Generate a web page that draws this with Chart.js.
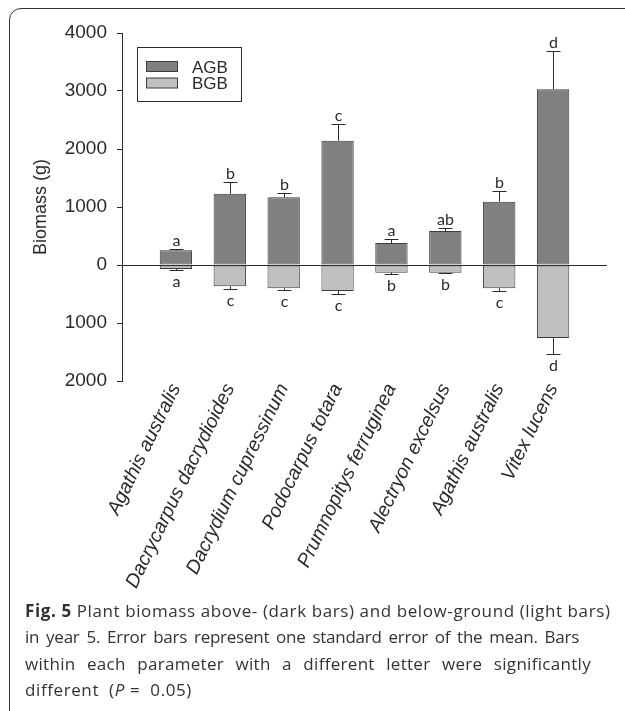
<!DOCTYPE html>
<html>
<head>
<meta charset="utf-8">
<script src="https://cdn.jsdelivr.net/npm/chart.js@4.4.0/dist/chart.umd.min.js"></script>
<style>
  html, body { margin: 0; padding: 0; background: #fff; }
  body { width: 625px; height: 711px; overflow: hidden; position: relative; }
  #frame { position: absolute; left: 9px; top: 8px; width: 660px; height: 740px; border: 1.5px solid #333; border-radius: 12px; box-sizing: border-box; }
  #c { position: absolute; left: 0; top: 0; }
  #cap { position: absolute; left: 25px; top: 598px; font-family: 'Open Sans', sans-serif; font-size: 17px; line-height: 26.3px; color: #333; }
  #cap div { white-space: nowrap; }
  #cap .l1 { letter-spacing: 0.6px; }
  #cap .l2 { width: 554px; text-align: justify; text-align-last: justify; letter-spacing: -0.25px; }
  #cap .l3 { width: 566px; text-align: justify; text-align-last: justify; letter-spacing: 0.3px; }
  #cap .l4 { letter-spacing: 0.6px; }
</style>
</head>
<body>
<div id="frame"></div>
<canvas id="c" width="625" height="600"></canvas>
<div id="cap">
  <div class="l1"><b>Fig. 5</b> Plant biomass above- (dark bars) and below-ground (light bars)</div>
  <div class="l2">in year 5. Error bars represent one standard error of the mean. Bars</div>
  <div class="l3">within each parameter with a different letter were significantly</div>
  <div class="l4">different&nbsp; (<i>P</i> = &nbsp;0.05)</div>
</div>
<script>
// species along the x axis
const species = ['Agathis australis', 'Dacrycarpus dacrydioides', 'Dacrydium cupressinum', 'Podocarpus totara',
                 'Prumnopitys ferruginea', 'Alectryon excelsus', 'Agathis australis', 'Vitex lucens'];
// above-ground biomass (g) and SE
const agb   = [253, 1229, 1167, 2144, 379, 586, 1092, 3029];
const agbSE = [28, 196, 80, 287, 64, 52, 184, 655];
// below-ground biomass (g, plotted downward) and SE
const bgb   = [-69, -368, -402, -448, -132, -132, -402, -1259];
const bgbSE = [12, 52, 35, 46, 17, 6, 46, 281];
const agbLetters = ['a', 'b', 'b', 'c', 'a', 'ab', 'b', 'd'];
const bgbLetters = ['a', 'c', 'c', 'c', 'b', 'b', 'c', 'd'];

const ink = '#2a2a2a';
const darkFill = '#808080', lightFill = '#c0c0c0', edge = '#3c3c3c';

const errorBars = {
  id: 'errorBars',
  afterDatasetsDraw(chart) {
    const { ctx, scales: { x, y } } = chart;
    ctx.save();
    ctx.strokeStyle = ink; ctx.lineWidth = 1;
    ctx.fillStyle = ink; ctx.textAlign = 'center';
    ctx.font = '16px Lato';
    const draw = (vals, se, letters, dir) => {
      vals.forEach((v, i) => {
        const px = Math.round(x.getPixelForValue(i + 1)) + 0.5;
        const y0 = y.getPixelForValue(v);
        const y1 = Math.round(y.getPixelForValue(v + dir * se[i])) + 0.5;
        ctx.beginPath();
        ctx.moveTo(px, y0); ctx.lineTo(px, y1);
        ctx.moveTo(px - 7, y1); ctx.lineTo(px + 7, y1);
        ctx.stroke();
        if (dir > 0) { ctx.textBaseline = 'alphabetic'; ctx.fillText(letters[i], px, y1 - 4); }
        else { ctx.textBaseline = 'top'; ctx.fillText(letters[i], px, y1 + 3); }
      });
    };
    draw(agb, agbSE, agbLetters, 1);
    draw(bgb, bgbSE, bgbLetters, -1);
    ctx.restore();
  }
};

const boxLegend = {
  id: 'boxLegend',
  afterDraw(chart) {
    const ctx = chart.ctx;
    ctx.save();
    ctx.strokeStyle = ink; ctx.lineWidth = 1;
    ctx.strokeRect(137.5, 47.5, 104, 54);
    ctx.font = '17px "Liberation Sans"';
    ctx.textBaseline = 'alphabetic'; ctx.textAlign = 'left';
    chart.data.datasets.forEach((ds, i) => {
      const top = 61.5 + i * 16.5;
      ctx.fillStyle = ds.backgroundColor;
      ctx.fillRect(146.5, top, 31, 10);
      ctx.strokeStyle = edge;
      ctx.strokeRect(146.5, top, 31, 10);
      ctx.fillStyle = ink;
      ctx.fillText(ds.label, 192, top + 11);
    });
    ctx.restore();
  }
};

new Chart(document.getElementById('c'), {
  type: 'bar',
  data: {
    datasets: [
      { label: 'AGB', data: agb.map((v, i) => ({ x: i + 1, y: v })), backgroundColor: darkFill },
      { label: 'BGB', data: bgb.map((v, i) => ({ x: i + 1, y: v })), backgroundColor: lightFill }
    ].map(d => Object.assign(d, { borderColor: edge, borderWidth: 1, borderSkipped: false, grouped: false,
                                  barPercentage: 0.6, categoryPercentage: 1 }))
  },
  options: {
    responsive: false, animation: false,
    layout: { padding: { left: 0, right: 18, top: 33, bottom: 0 } },
    plugins: { legend: { display: false }, tooltip: { enabled: false } },
    scales: {
      x: {
        type: 'linear', min: 0, max: 9, offset: false,
        grid: { display: false }, border: { display: false },
        ticks: {
          stepSize: 1, autoSkip: false, minRotation: 64, maxRotation: 64, padding: -9,
          color: ink, font: { family: 'Liberation Sans', style: 'italic', size: 19.5 },
          callback: v => species[v - 1] || ''
        },
        afterFit: s => { s.height = 219; }
      },
      y: {
        min: -2000, max: 4000,
        ticks: { stepSize: 1000, padding: 10, color: ink, font: { family: 'Liberation Sans', size: 19 },
                 callback: v => String(Math.abs(v)) },
        grid: {
          color: c => (c.tick && c.tick.value === 0) ? ink : 'rgba(0,0,0,0)',
          tickColor: ink, tickLength: 5, lineWidth: 1
        },
        border: { display: true, color: ink, width: 1 },
        title: { display: true, text: 'Biomass (g)', color: ink,
                 font: { family: 'Liberation Sans', size: 18 }, padding: { top: 30 } },
        afterFit: s => { s.width = 122; }
      }
    }
  },
  plugins: [errorBars, boxLegend]
});
</script>
</body>
</html>
